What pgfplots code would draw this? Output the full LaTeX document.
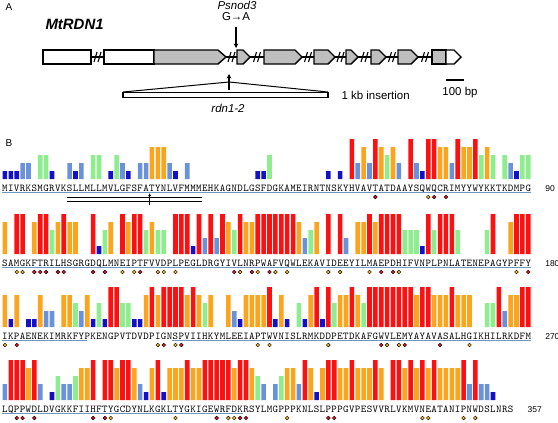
\documentclass[border=0pt]{standalone}
\usepackage{fontspec}
\setmainfont{Liberation Sans}
\usepackage{pgfplots}
\usepackage{pgfplotstable}
\pgfplotsset{compat=1.18}
\usetikzlibrary{arrows.meta}

\definecolor{cR}{RGB}{255,16,16}
\definecolor{cO}{RGB}{252,165,28}
\definecolor{cG}{RGB}{140,238,140}
\definecolor{cL}{RGB}{106,146,218}
\definecolor{cD}{RGB}{20,16,200}
\definecolor{dotR}{RGB}{228,16,32}
\definecolor{dotO}{RGB}{246,180,30}
\definecolor{uline}{RGB}{110,150,190}
\definecolor{exon}{RGB}{190,190,190}

% i, residue letter and conservation level (0-5) for the four sequence lines
\pgfplotstableread{
i s1 l1 s2 l2 s3 l3 s4 l4
1 M 1 S 4 I 4 L 2
2 I 1 A 0 K 1 Q 5
3 V 1 M 5 P 4 P 5
4 R 2 G 5 A 0 P 5
5 K 2 K 0 E 1 W 4
6 S 0 F 4 N 1 D 5
7 M 3 T 5 E 4 L 2
8 G 3 R 5 K 2 D 0
9 R 1 I 3 I 2 V 1
10 V 0 L 4 M 0 G 3
11 K 0 H 5 R 4 K 2
12 S 2 S 4 K 4 K 2
13 L 1 G 4 F 3 F 3
14 L 2 R 0 Y 2 I 4
15 M 0 G 0 P 4 I 4
16 L 3 D 5 K 1 H 5
17 L 3 Q 1 E 3 F 0
18 M 0 L 3 N 1 T 5
19 V 1 M 4 G 5 Y 5
20 L 3 N 0 P 5 G 4
21 G 2 E 5 V 3 C 5
22 F 1 I 4 T 3 D 5
23 S 0 P 5 D 1 Y 4
24 F 2 T 5 V 1 N 2
25 A 2 F 3 D 4 L 1
26 T 4 V 4 P 5 K 4
27 Y 4 V 3 I 4 G 5
28 N 4 D 3 G 5 K 1
29 L 2 P 0 N 5 L 4
30 V 1 L 5 S 5 T 4
31 F 0 P 5 P 5 Y 4
32 M 2 E 5 V 4 G 5
33 M 0 G 1 I 5 K 4
34 M 0 L 5 I 4 I 4
35 E 0 D 2 H 3 G 5
36 H 0 R 5 K 4 E 5
37 K 0 G 2 Y 0 W 5
38 A 0 Y 5 M 0 R 5
39 G 0 I 4 L 4 F 5
40 N 0 V 3 E 2 D 4
41 D 0 L 5 E 1 K 5
42 L 0 N 4 I 4 R 5
43 G 0 R 4 A 4 S 4
44 S 1 P 5 P 4 Y 3
45 F 1 W 5 T 4 L 2
46 D 3 A 5 W 5 M 0
47 G 0 F 5 V 1 G 2
48 K 0 V 5 N 4 P 3
49 A 0 Q 5 I 1 P 4
50 M 0 W 5 S 0 P 4
51 E 0 L 4 L 3 K 2
52 I 0 E 2 R 1 N 5
53 R 0 K 3 M 4 L 4
54 N 0 A 4 K 5 S 1
55 T 0 V 0 D 1 L 4
56 N 1 I 5 D 5 P 5
57 S 0 D 0 P 3 P 5
58 K 1 E 5 E 4 P 4
59 Y 0 E 2 T 4 G 4
60 H 5 Y 0 D 5 V 5
61 V 2 I 4 K 4 P 4
62 A 4 L 4 A 3 E 4
63 V 2 M 5 F 5 S 4
64 T 5 A 4 G 5 V 5
65 A 4 E 5 W 5 V 4
66 T 3 P 5 V 5 R 0
67 D 4 D 5 L 5 L 5
68 A 2 H 5 E 5 V 5
69 A 0 I 3 M 5 K 4
70 Y 5 F 3 Y 5 M 5
71 S 2 V 3 A 4 V 4
72 Q 1 N 1 Y 5 N 5
73 W 5 P 5 A 5 E 4
74 Q 5 L 3 V 4 A 5
75 C 4 P 5 A 4 T 4
76 R 4 N 5 S 4 A 4
77 I 2 L 5 A 5 N 4
78 M 5 A 3 L 4 I 4
79 Y 4 T 0 H 4 P 5
80 Y 4 E 0 G 4 N 2
81 W 5 N 0 I 0 W 5
82 Y 3 E 0 K 0 D 2
83 K 4 P 3 H 3 S 2
84 K 3 A 5 I 3 L 1
85 T 0 G 0 L 5 N 0
86 K 3 Y 0 R 2 R 0
87 D 2 P 4 K 4 S 0
88 M 1 F 5 D 4 - 0
89 P 3 F 5 F 5 - 0
90 G 3 Y 5 M 5 - 0
}\seqtab

\pgfplotsset{
  rowax/.style={scale only axis, width=529.2bp, height=40bp,
    xmin=0.5, xmax=90.5, ymin=0, ymax=5, clip=false,
    axis line style={draw=none}, major tick length=0pt, ytick=\empty,
    xticklabel style={font=\ttfamily\fontsize{10.5}{12}\selectfont, anchor=base, yshift=-12bp, inner sep=0pt}},
  lev/.style={ybar, bar width=4.6bp, bar shift=0pt, draw=none, fill=#1},
  rdot/.style={only marks, mark=*, mark size=1.9bp, mark options={draw=none, fill=dotR}},
  odot/.style={only marks, mark=*, mark size=1.9bp, mark options={draw=none, fill=dotO}},
  ul/.style={uline, line width=1.4bp},
  gline/.style={black, line width=1.1bp},
  gbox/.style={draw=black, line width=1.4bp, fill=#1},
}
\tikzset{numlab/.style={anchor=base west, font=\fontsize{8.5}{10}\selectfont}}

\begin{document}
\begin{tikzpicture}[x=1bp,y=1bp]
\useasboundingbox (0,0) rectangle (558,-422);

% ---------------- panel A ----------------
\begin{axis}[at={(0,0)}, anchor=north west, scale only axis, width=558bp, height=422bp,
  xmin=0, xmax=558, ymin=0, ymax=422, y dir=reverse, hide axis, clip=false]
 \addplot[gline] coordinates {(91,57)(432,57)};
 \addplot[gbox=white] coordinates {(43,50)(91,50)(91,64)(43,64)} -- cycle;
 \addplot[gbox=white] coordinates {(104,50)(154,50)(154,64)(104,64)} -- cycle;
 \addplot[gbox=exon] coordinates {(154,50)(218,50)(226,57)(218,64)(154,64)} -- cycle;
 \addplot[gbox=exon] coordinates {(237,50)(243,50)(250,57)(243,64)(237,64)} -- cycle;
 \addplot[gbox=exon] coordinates {(264,50)(295,50)(302,57)(295,64)(264,64)} -- cycle;
 \addplot[gbox=exon] coordinates {(314,50)(328,50)(335,57)(328,64)(314,64)} -- cycle;
 \addplot[gbox=exon] coordinates {(346,50)(351,50)(358,57)(351,64)(346,64)} -- cycle;
 \addplot[gbox=exon] coordinates {(371,50)(379,50)(386,57)(379,64)(371,64)} -- cycle;
 \addplot[gbox=exon] coordinates {(398,50)(411,50)(418,57)(411,64)(398,64)} -- cycle;
 \addplot[gbox=exon] coordinates {(432,50)(446,50)(446,64)(432,64)} -- cycle;
 \addplot[gbox=white] coordinates {(446,50)(454,50)(461,57)(454,64)(446,64)} -- cycle;
 % breaks //
 \addplot[gline] coordinates {(94,62)(97,52)};   \addplot[gline] coordinates {(98,62)(101,52)};
 \addplot[gline] coordinates {(228,62)(231,52)}; \addplot[gline] coordinates {(232,62)(235,52)};
 \addplot[gline] coordinates {(253.5,62)(256.5,52)}; \addplot[gline] coordinates {(257.5,62)(260.5,52)};
 \addplot[gline] coordinates {(304.5,62)(307.5,52)}; \addplot[gline] coordinates {(308.5,62)(311.5,52)};
 \addplot[gline] coordinates {(337,62)(340,52)}; \addplot[gline] coordinates {(341,62)(344,52)};
 \addplot[gline] coordinates {(361,62)(364,52)}; \addplot[gline] coordinates {(365,62)(368,52)};
 \addplot[gline] coordinates {(388.5,62)(391.5,52)}; \addplot[gline] coordinates {(392.5,62)(395.5,52)};
 \addplot[gline] coordinates {(421.5,62)(424.5,52)}; \addplot[gline] coordinates {(425.5,62)(428.5,52)};
 % arrows and insertion
 \addplot[black, line width=1.1bp, -{Stealth[length=4.5bp,width=4.5bp]}] coordinates {(236,27)(236,48)};
 \addplot[black, line width=1.1bp, -{Stealth[length=4.5bp,width=4.5bp]}] coordinates {(229,90)(229,74)};
 \addplot[black, line width=1bp] coordinates {(123,92)(229,82)(328,92)};
 \addplot[gbox=white] coordinates {(123,92.5)(328,92.5)(328,97.5)(123,97.5)} -- cycle;
 \addplot[black, line width=2.2bp] coordinates {(446,80)(464,80)};
 % texts
 \node[anchor=north west, font=\fontsize{10}{12}\selectfont] at (axis cs:2,0) {A};
 \node[anchor=west, font=\bfseries\itshape\fontsize{15}{17}\selectfont] at (axis cs:42,24) {MtRDN1};
 \node[font=\itshape\fontsize{11.5}{13}\selectfont] at (axis cs:237,5) {Psnod3};
 \node[font=\fontsize{11.5}{13}\selectfont] at (axis cs:236,17) {G→A};
 \node[anchor=west, font=\fontsize{11.5}{13}\selectfont] at (axis cs:338,95) {1 kb insertion};
 \node[font=\itshape\fontsize{11.5}{13}\selectfont] at (axis cs:228,108) {rdn1-2};
 \node[font=\fontsize{11.5}{13}\selectfont] at (axis cs:460,93) {100 bp};
 \node[anchor=north west, font=\fontsize{10}{12}\selectfont] at (axis cs:2,136) {B};
\end{axis}

% ---------------- row 1 ----------------
\begin{axis}[rowax, at={(2bp,-179bp)}, anchor=south west,
  xtick={1,...,90}, xticklabels from table={\seqtab}{s1}]
 \addplot[lev=cD, restrict y to domain=0.5:1.5] table[x=i,y=l1]{\seqtab};
 \addplot[lev=cL, restrict y to domain=1.5:2.5] table[x=i,y=l1]{\seqtab};
 \addplot[lev=cG, restrict y to domain=2.5:3.5] table[x=i,y=l1]{\seqtab};
 \addplot[lev=cO, restrict y to domain=3.5:4.5] table[x=i,y=l1]{\seqtab};
 \addplot[lev=cR, restrict y to domain=4.5:5.5] table[x=i,y=l1]{\seqtab};
 \addplot[ul] coordinates {(0.5,-1.7)(90.5,-1.7)};
 \addplot[black, line width=0.8bp] coordinates {(11.6,-2.35)(34.5,-2.35)};
 \addplot[black, line width=0.8bp] coordinates {(11.6,-2.75)(34.5,-2.75)};
 \addplot[black, line width=0.8bp, -{Stealth[length=3bp,width=3bp]}] coordinates {(25.6,-3.3)(25.6,-1.8)};
 \addplot[rdot] coordinates {(64,-2.25)(74,-2.25)(76,-2.25)};
 \addplot[odot] coordinates {(73,-2.25)};
 \node[numlab] at (axis cs:92.3,-1.5) {90};
\end{axis}

% ---------------- row 2 ----------------
\begin{axis}[rowax, at={(2bp,-254bp)}, anchor=south west,
  xtick={1,...,90}, xticklabels from table={\seqtab}{s2}]
 \addplot[lev=cD, restrict y to domain=0.5:1.5] table[x=i,y=l2]{\seqtab};
 \addplot[lev=cL, restrict y to domain=1.5:2.5] table[x=i,y=l2]{\seqtab};
 \addplot[lev=cG, restrict y to domain=2.5:3.5] table[x=i,y=l2]{\seqtab};
 \addplot[lev=cO, restrict y to domain=3.5:4.5] table[x=i,y=l2]{\seqtab};
 \addplot[lev=cR, restrict y to domain=4.5:5.5] table[x=i,y=l2]{\seqtab};
 \addplot[ul] coordinates {(0.5,-1.7)(90.5,-1.7)};
 \addplot[rdot] coordinates {(6,-2.25)(7,-2.25)(8,-2.25)(10,-2.25)(11,-2.25)(16,-2.25)(18,-2.25)(24,-2.25)(40,-2.25)(43,-2.25)(46,-2.25)(65,-2.25)(67,-2.25)(90,-2.25)};
 \addplot[odot] coordinates {(3,-2.25)(4,-2.25)(21,-2.25)(23,-2.25)(27,-2.25)(28,-2.25)(30,-2.25)(41,-2.25)(44,-2.25)(47,-2.25)(49,-2.25)(56,-2.25)(58,-2.25)(63,-2.25)(68,-2.25)(88,-2.25)};
 \node[numlab] at (axis cs:92.3,-1.5) {180};
\end{axis}

% ---------------- row 3 ----------------
\begin{axis}[rowax, at={(2bp,-327bp)}, anchor=south west,
  xtick={1,...,90}, xticklabels from table={\seqtab}{s3}]
 \addplot[lev=cD, restrict y to domain=0.5:1.5] table[x=i,y=l3]{\seqtab};
 \addplot[lev=cL, restrict y to domain=1.5:2.5] table[x=i,y=l3]{\seqtab};
 \addplot[lev=cG, restrict y to domain=2.5:3.5] table[x=i,y=l3]{\seqtab};
 \addplot[lev=cO, restrict y to domain=3.5:4.5] table[x=i,y=l3]{\seqtab};
 \addplot[lev=cR, restrict y to domain=4.5:5.5] table[x=i,y=l3]{\seqtab};
 \addplot[ul] coordinates {(0.5,-1.7)(15,-1.7)};
 \addplot[ul] coordinates {(29.4,-1.7)(90.5,-1.7)};
 \addplot[rdot] coordinates {(3,-2.25)(28,-2.25)(31,-2.25)(65,-2.25)(69,-2.25)(75,-2.25)};
 \addplot[odot] coordinates {(1,-2.25)(27,-2.25)(30,-2.25)(44,-2.25)(46,-2.25)(56,-2.25)(66,-2.25)(68,-2.25)(80,-2.25)};
 \node[numlab] at (axis cs:92.3,-1.5) {270};
\end{axis}

% ---------------- row 4 ----------------
\begin{axis}[rowax, at={(2bp,-400bp)}, anchor=south west,
  xtick={1,...,87}, xticklabels from table={\seqtab}{s4}]
 \addplot[lev=cD, restrict y to domain=0.5:1.5] table[x=i,y=l4]{\seqtab};
 \addplot[lev=cL, restrict y to domain=1.5:2.5] table[x=i,y=l4]{\seqtab};
 \addplot[lev=cG, restrict y to domain=2.5:3.5] table[x=i,y=l4]{\seqtab};
 \addplot[lev=cO, restrict y to domain=3.5:4.5] table[x=i,y=l4]{\seqtab};
 \addplot[lev=cR, restrict y to domain=4.5:5.5] table[x=i,y=l4]{\seqtab};
 \addplot[ul] coordinates {(0.5,-1.7)(41.5,-1.7)};
 \addplot[rdot] coordinates {(3,-2.25)(4,-2.25)(6,-2.25)(16,-2.25)(18,-2.25)(37,-2.25)(41,-2.25)(42,-2.25)(56,-2.25)(57,-2.25)};
 \addplot[odot] coordinates {(19,-2.25)(30,-2.25)(39,-2.25)(40,-2.25)(49,-2.25)(72,-2.25)(73,-2.25)(79,-2.25)(81,-2.25)};
 \node[numlab] at (axis cs:89.3,-1.5) {357};
\end{axis}
\end{tikzpicture}
\end{document}
